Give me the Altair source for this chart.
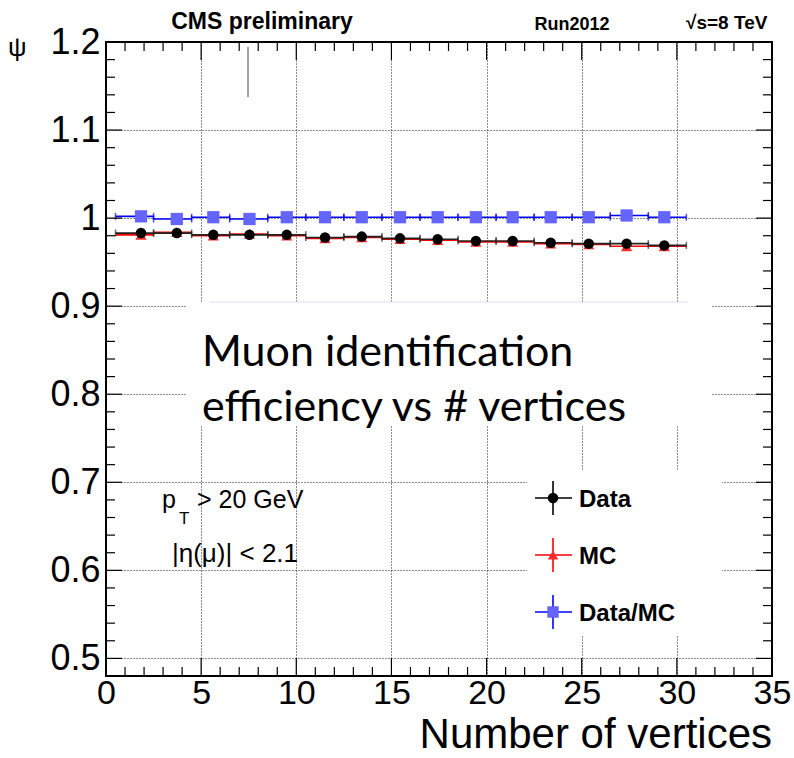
import altair as alt
import pandas as pd

# --- efficiency vs number of reconstructed vertices (2-vertex bins) ---
bin_lo = [0.5, 2.5, 4.5, 6.5, 8.5, 10.5, 12.5, 14.5, 16.5, 18.5, 20.5, 22.5, 24.5, 26.5, 28.5]
bin_hi = [2.5, 4.5, 6.5, 8.5, 10.5, 12.5, 14.5, 16.5, 18.5, 20.5, 22.5, 24.5, 26.5, 28.5, 30.5]
x_mean = [1.84, 3.72, 5.64, 7.54, 9.50, 11.51, 13.44, 15.45, 17.43, 19.44, 21.37, 23.37, 25.37, 27.36, 29.34]
eff_data = [0.983, 0.983, 0.981, 0.981, 0.981, 0.978, 0.979, 0.977, 0.976, 0.974, 0.974, 0.972, 0.971, 0.971, 0.969]
eff_mc = [0.981, 0.984, 0.980, 0.982, 0.980, 0.977, 0.978, 0.976, 0.975, 0.973, 0.973, 0.971, 0.970, 0.968, 0.968]
ratio = [1.002, 0.999, 1.001, 0.999, 1.001, 1.001, 1.001, 1.001, 1.001, 1.001, 1.001, 1.001, 1.001, 1.003, 1.001]

x_labels = [0, 5, 10, 15, 20, 25, 30, 35]
y_labels = [0.5, 0.6, 0.7, 0.8, 0.9, 1.0, 1.1, 1.2]
x_minor = list(range(0, 36))
y_minor = [round(0.48 + 0.02 * i, 2) for i in range(37)]
x_title = "Number of vertices"

legend_labels = ["Data", "MC", "Data/MC"]
legend_colors = ["#000000", "#ff2b2b", "#6464ff"]
legend_lines = ["#000000", "#ff0000", "#0000ff"]
legend_shapes = ["circle", "triangle-up", "square"]

# --- layout (pixels) ---
PAD_L, PAD_T, PAD_R, PAD_B = 106, 42, 22, 82
W, H = 666, 634
FONT = "Liberation Sans"


def px(v):
    return v - PAD_L


def py(v):
    return v - PAD_T


xs = alt.Scale(domain=[0, 35], nice=False, zero=False)
ys = alt.Scale(domain=[0.48, 1.2], nice=False, zero=False)

df = pd.DataFrame({"x": x_mean, "lo": bin_lo, "hi": bin_hi,
                   "data": eff_data, "mc": eff_mc, "ratio": ratio})
one = pd.DataFrame({"k": [0]})

grid_style = dict(gridColor="black", gridDash=[1, 2], gridWidth=1, gridOpacity=0.9)
x_axis = alt.Axis(values=x_labels, grid=True, ticks=False, domain=False,
                  labelFontSize=34, labelFont=FONT, labelColor="black",
                  labelPadding=0, labelFlush=False, labelOverlap=False,
                  title=None, **grid_style)
y_axis = alt.Axis(values=y_labels, format=".1~f", grid=True, ticks=False, domain=False,
                  labelFontSize=36, labelFont=FONT, labelColor="black",
                  labelPadding=6, labelFlush=False, labelOverlap=False, title=None,
                  **grid_style)


def X(field):
    return alt.X(field, type="quantitative", scale=xs, axis=x_axis)


def Y(field):
    return alt.Y(field, type="quantitative", scale=ys, axis=y_axis)


base = alt.Chart(df)


def white_box(x0, x1, y0, y1):
    return alt.Chart(one).mark_rect(color="white").encode(
        x=alt.value(px(x0)), x2=alt.value(px(x1)), y=alt.value(py(y0)), y2=alt.value(py(y1)))


# white boxes laid over the grid (annotation box and legend box)
boxes = [white_box(186, 712, 303, 426), white_box(527, 722, 471, 636)]
box_edge = alt.Chart(one).mark_rule(color="#d6e2f5", strokeWidth=1).encode(
    x=alt.value(px(210)), x2=alt.value(px(688)), y=alt.value(py(302)))
stray = alt.Chart(one).mark_rule(color="#444444", strokeWidth=1).encode(
    x=alt.value(px(248)), y=alt.value(py(47)), y2=alt.value(py(97)))

# horizontal bin-width error bars with end caps
mc_bars = base.mark_rule(color="#ff0000", strokeWidth=1.6).encode(x=X("lo"), x2="hi", y=Y("mc"))
data_bars = base.mark_rule(color="#222222", strokeWidth=1.6).encode(x=X("lo"), x2="hi", y=Y("data"))
ratio_bars = base.mark_rule(color="#0000ff", strokeWidth=1.6).encode(x=X("lo"), x2="hi", y=Y("ratio"))
data_caps = base.transform_fold(["lo", "hi"], as_=["edge", "xe"]).mark_tick(
    orient="vertical", size=7, thickness=1.5, color="#222222").encode(x=X("xe:Q"), y=Y("data"))
ratio_caps = base.transform_fold(["lo", "hi"], as_=["edge", "xe"]).mark_tick(
    orient="vertical", size=7, thickness=1.5, color="#0000ff").encode(x=X("xe:Q"), y=Y("ratio"))

mc_pts = base.mark_point(shape="triangle-up", filled=True, size=125, color="#ff2b2b",
                         opacity=1).encode(x=X("x"), y=Y("mc"))
data_pts = base.mark_point(shape="circle", filled=True, size=110, color="black",
                           opacity=1).encode(x=X("x"), y=Y("data"))
ratio_pts = base.mark_point(shape="square", filled=True, size=150, color="#6464ff",
                            opacity=1).encode(x=X("x"), y=Y("ratio"))

# inward ticks on all four sides of the frame
xmin_df = pd.DataFrame({"v": x_minor, "major": [v % 5 == 0 for v in x_minor]})
ymin_df = pd.DataFrame({"v": y_minor, "major": [round(v * 10, 6) == round(v * 10) for v in y_minor]})
tick_layers = []
for major, xlen, ylen in [(True, 18, 16), (False, 9, 9)]:
    xd = alt.Chart(xmin_df).transform_filter(alt.datum.major == major)
    yd = alt.Chart(ymin_df).transform_filter(alt.datum.major == major)
    tick_layers += [
        xd.mark_rule(color="black", strokeWidth=1.2).encode(x=X("v"), y=alt.value(H), y2=alt.value(H - xlen)),
        xd.mark_rule(color="black", strokeWidth=1.2).encode(x=X("v"), y=alt.value(0), y2=alt.value(xlen)),
        yd.mark_rule(color="black", strokeWidth=1.2).encode(y=Y("v"), x=alt.value(0), x2=alt.value(ylen)),
        yd.mark_rule(color="black", strokeWidth=1.2).encode(y=Y("v"), x=alt.value(W), x2=alt.value(W - ylen)),
    ]


def label(text, x, y, size, weight="normal", font=FONT, align="left", baseline="alphabetic"):
    return alt.Chart(one).mark_text(text=text, font=font, fontSize=size, fontWeight=weight,
                                    align=align, baseline=baseline, color="black").encode(
        x=alt.value(px(x)), y=alt.value(py(y)))


texts = [
    label(x_title, 772, 748, 42, align="right"),
    label("CMS preliminary", 262, 29, 23, "bold", align="center"),
    label("Run2012", 572, 30, 18, "bold", align="center"),
    label("√s=8 TeV", 686, 29, 19, "bold"),
    label("ψ", 8, 56, 26),
    label("Muon identification", 202, 366, 43, font="Lato"),
    label("efficiency vs # vertices", 202, 421, 43, font="Lato"),
    label("p", 162, 508, 25),
    label("T", 179, 524, 17),
    label("> 20 GeV", 197, 508, 25),
    label("|η(μ)| < 2.1", 172, 562, 26),
]

# legend entries: error-bar cross with marker, bold label
legend_layers = []
for i, (lab, col, lcol, shp) in enumerate(zip(legend_labels, legend_colors, legend_lines, legend_shapes)):
    cy = 498 + 57 * i
    legend_layers += [
        alt.Chart(one).mark_rule(color=lcol, strokeWidth=1.6).encode(
            x=alt.value(px(535)), x2=alt.value(px(572)), y=alt.value(py(cy))),
        alt.Chart(one).mark_rule(color=lcol, strokeWidth=1.6).encode(
            x=alt.value(px(553)), y=alt.value(py(cy - 17)), y2=alt.value(py(cy + 17))),
        alt.Chart(one).mark_point(shape=shp, filled=True, opacity=1, color=col,
                                  size=110 if shp != "square" else 130).encode(
            x=alt.value(px(553)), y=alt.value(py(cy))),
        label(lab, 579, cy + 9, 24, "bold"),
    ]

chart = alt.layer(
    *boxes, box_edge, stray,
    mc_bars, data_bars, ratio_bars, data_caps, ratio_caps,
    mc_pts, data_pts, ratio_pts,
    *tick_layers, *texts, *legend_layers,
).properties(
    width=W, height=H,
    autosize=alt.AutoSizeParams(type="none"),
    padding={"left": PAD_L, "top": PAD_T, "right": PAD_R, "bottom": PAD_B},
    background="white",
).configure_view(stroke="black", strokeWidth=2)

chart.save("out.html", embed_options={"renderer": "svg", "actions": False})
